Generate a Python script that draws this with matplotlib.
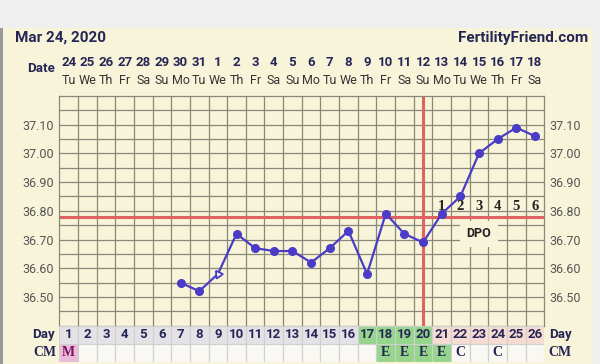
import matplotlib
matplotlib.use('Agg')
import matplotlib.pyplot as plt
from matplotlib.patches import Rectangle
from matplotlib.transforms import blended_transform_factory
import numpy as np

# ---------------- data ----------------
days = list(range(1, 27))
dates = ['24', '25', '26', '27', '28', '29', '30', '31', '1', '2', '3', '4', '5',
         '6', '7', '8', '9', '10', '11', '12', '13', '14', '15', '16', '17', '18']
weekdays = ['Tu', 'We', 'Th', 'Fr', 'Sa', 'Su', 'Mo', 'Tu', 'We', 'Th', 'Fr', 'Sa', 'Su',
            'Mo', 'Tu', 'We', 'Th', 'Fr', 'Sa', 'Su', 'Mo', 'Tu', 'We', 'Th', 'Fr', 'Sa']
temps = [None, None, None, None, None, None,
         36.55, 36.52, 36.58, 36.72, 36.67, 36.66, 36.66, 36.62, 36.67, 36.73,
         36.58, 36.79, 36.72, 36.69, 36.79, 36.85, 37.00, 37.05, 37.09, 37.06]
open_marker_days = [9]
coverline = 36.78
ovulation_day = 20
dpo_days = [21, 22, 23, 24, 25, 26]
dpo_labels = ['1', '2', '3', '4', '5', '6']
phase = ['pre'] * 16 + ['fertile'] * 4 + ['post'] * 6
cm = ['M'] + [''] * 16 + ['E', 'E', 'E', 'E', 'C', '', 'C', '', '']
yticks = [36.50, 36.60, 36.70, 36.80, 36.90, 37.00, 37.10]
title_date = 'Mar 24, 2020'
site = 'FertilityFriend.com'

# ---------------- style ----------------
W, H = 600, 364
BG = '#f8f4da'
NAVY = '#262656'
BLUE = '#4a3cc6'
RED = '#e06262'
GRID = '#8a887a'
phase_colors = {'pre': '#e4e2e6', 'fertile': '#96d68c', 'post': '#f6dcd2'}
cm_colors = {'M': '#ebbad8', 'E': '#96d68c', 'C': '#f9f8f2', '': '#f9f8f2'}
cm_text_colors = {'M': '#7a1462', 'E': NAVY, 'C': NAVY, '': NAVY}
SERIF = ['Liberation Serif', 'DejaVu Serif']

plt.rcParams['font.family'] = ['Roboto', 'DejaVu Sans']

fig = plt.figure(figsize=(W / 100, H / 100), dpi=100, facecolor=BG)


def fx(x):
    return x / W


def fy(y):
    return 1 - y / H


# background decorations
fig.patches.append(Rectangle((0, fy(28)), 1, 1 - fy(28), transform=fig.transFigure,
                             facecolor='#efefef', edgecolor='none', zorder=0))
fig.patches.append(Rectangle((fx(593), 0), 1 - fx(593), 1, transform=fig.transFigure,
                             facecolor='#efefef', edgecolor='none', zorder=0))
fig.patches.append(Rectangle((0, 0), fx(2.5), fy(28), transform=fig.transFigure,
                             facecolor='#9a9a9a', edgecolor='none', zorder=0))

# main axes
L, R, T, B = 59.3, 544.3, 96.0, 325.7
ax = fig.add_axes([fx(L), fy(B), fx(R) - fx(L), fy(T) - fy(B)])
ax.set_facecolor(BG)
ax.set_xlim(0.5, 26.5)
ax.set_ylim(36.40, 37.20)
for v in np.arange(36.45, 37.20, 0.05):
    ax.axhline(v, color=GRID, lw=0.9, zorder=1)
for d in days[:-1]:
    ax.axvline(d + 0.5, color=GRID, lw=0.9, zorder=1)
for s in ax.spines.values():
    s.set_color(GRID)
    s.set_linewidth(0.9)
ax.set_xticks([])
ax.set_yticks(yticks)
ax.set_yticklabels(['%.2f' % v for v in yticks], fontsize=9, color='#555555')
ax.tick_params(axis='y', length=0, pad=4, labelright=True, labelleft=True)

# cover line and ovulation line
ax.axhline(coverline, color=RED, lw=2.2, zorder=2)
ax.axvline(ovulation_day, color=RED, lw=2.2, zorder=2)

# temperature line
xs = [d for d, t in zip(days, temps) if t is not None]
ys = [t for t in temps if t is not None]
ax.plot(xs, ys, color=BLUE, lw=1.6, zorder=3)
fx_days = [d for d in xs if d not in open_marker_days]
fy_vals = [temps[d - 1] for d in fx_days]
ax.plot(fx_days, fy_vals, 'o', color=BLUE, ms=5.5, zorder=4)
for d in open_marker_days:
    ax.plot([d], [temps[d - 1]], marker=(3, 0, 155), ms=6.5, mfc='white',
            mec=BLUE, mew=1.3, ls='none', zorder=4)

# DPO labels
for d, lab in zip(dpo_days, dpo_labels):
    ax.text(d, coverline + 0.012, lab, ha='center', va='bottom', fontsize=10.5,
            fontweight='bold', color='#222222', family=SERIF, zorder=5)
ax.text((dpo_days[1] + dpo_days[3]) / 2, coverline - 0.06, 'DPO', ha='center', va='center',
        fontsize=9, fontweight='bold', color='#222222', zorder=5,
        bbox=dict(boxstyle='square,pad=0.5', facecolor=BG, edgecolor='none'))

# header texts
fig.text(fx(15), fy(38), title_date, ha='left', va='center', fontsize=11,
         fontweight='bold', color=NAVY)
fig.text(fx(588), fy(38), site, ha='right', va='center', fontsize=11,
         fontweight='bold', color=NAVY)
fig.text(fx(55), fy(68), 'Date', ha='right', va='center', fontsize=9.5,
         fontweight='bold', color=NAVY)
tr = blended_transform_factory(ax.transData, fig.transFigure)
for d, dt, wd in zip(days, dates, weekdays):
    fig.text(d, fy(62), dt, transform=tr, ha='center', va='center', fontsize=9.5,
             fontweight='bold', color=NAVY)
    fig.text(d, fy(80), wd, transform=tr, ha='center', va='center', fontsize=9,
             color='#333333')

# bottom table
tb = fig.add_axes([fx(L), fy(362), fx(R) - fx(L), fy(B) - fy(362)])
tb.set_xlim(0.5, 26.5)
tb.set_ylim(0, 2)
tb.axis('off')
for d, ph, c in zip(days, phase, cm):
    tb.add_patch(Rectangle((d - 0.5, 1), 1, 1, facecolor=phase_colors[ph],
                           edgecolor='#cfcfcf', lw=0.8))
    tb.add_patch(Rectangle((d - 0.5, 0), 1, 1, facecolor=cm_colors[c],
                           edgecolor='#cfcfcf', lw=0.8))
    tb.text(d, 1.5, str(d), ha='center', va='center', fontsize=9.5, fontweight='bold',
            color=NAVY)
    if c:
        tb.text(d, 0.5, c, ha='center', va='center', fontsize=10, fontweight='bold',
                color=cm_text_colors[c], family=SERIF)
fig.text(fx(55), fy(334.5), 'Day', ha='right', va='center', fontsize=9.5,
         fontweight='bold', color=NAVY)
fig.text(fx(549), fy(334.5), 'Day', ha='left', va='center', fontsize=9.5,
         fontweight='bold', color=NAVY)
fig.text(fx(57), fy(353), 'CM', ha='right', va='center', fontsize=10,
         fontweight='bold', color=NAVY, family=SERIF)
fig.text(fx(548), fy(353), 'CM', ha='left', va='center', fontsize=10,
         fontweight='bold', color=NAVY, family=SERIF)

fig.savefig('out.png', dpi=100, facecolor=BG)
